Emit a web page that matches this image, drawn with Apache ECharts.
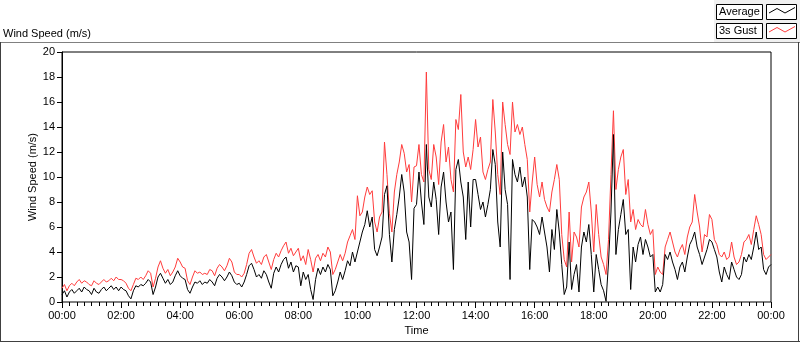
<!DOCTYPE html>
<html><head><meta charset="utf-8">
<script src="https://cdn.jsdelivr.net/npm/echarts@6/dist/echarts.min.js"></script>
<style>html,body{margin:0;padding:0;background:#fff}#c{width:800px;height:342px}</style>
</head><body><div id="c"></div>
<script>
// sampling step of the series (minutes after 00:00)
const stepMinutes = 5;

// Average wind speed (m/s), one value per 5 minutes, 00:00 .. 24:00
const avgSpeed = [
  0.6,0.9,0.4,0.8,1.0,0.7,0.9,1.1,0.8,1.2,1.0,0.9,0.6,1.1,0.8,0.7,1.0,1.2,0.9,1.1,1.3,1.0,1.2,0.9,
  1.2,1.0,0.9,0.5,0.25,0.9,1.3,1.2,1.4,1.3,1.5,1.8,1.6,0.6,1.2,2.0,2.3,1.9,1.5,1.8,1.4,1.6,2.1,2.5,
  2.1,1.9,1.8,1.0,0.7,1.2,1.6,1.5,1.7,1.4,1.6,1.5,1.8,1.6,1.3,1.9,2.2,2.0,1.7,2.0,2.4,2.1,1.6,1.4,
  1.5,1.2,1.6,2.2,2.9,3.1,2.6,2.0,2.2,1.9,2.5,2.2,1.6,1.1,2.3,2.8,2.4,3.0,3.4,3.6,2.7,3.2,2.4,2.9,
  2.8,1.3,2.4,1.8,2.2,1.0,0.2,1.8,2.7,2.2,2.8,2.4,3.0,2.6,0.5,0.9,1.6,2.4,1.8,2.5,3.3,2.9,4.0,3.2,
  4.0,4.8,5.6,6.2,7.3,6.0,6.8,4.2,3.7,4.4,5.2,8.6,9.3,5.4,3.2,5.8,7.0,8.4,10.2,8.8,5.6,4.8,1.8,7.5,
  7.8,10.4,8.0,6.2,12.6,8.4,7.6,9.6,8.2,5.4,9.2,10.4,8.0,6.4,7.2,2.6,10.6,11.4,9.6,8.4,5.0,9.6,6.0,9.8,
  9.8,8.6,7.4,8.0,6.8,7.8,9.0,12.2,11.0,6.4,4.4,12.0,9.0,7.8,1.8,11.4,10.2,9.6,10.8,9.2,10.0,8.4,2.6,6.6,
  6.4,6.0,5.4,6.8,5.6,4.4,2.4,5.8,4.2,7.4,5.6,3.0,0.6,1.2,4.8,1.0,2.2,3.0,0.8,4.4,5.6,4.8,6.2,3.8,
  0.8,3.8,2.6,1.4,0.9,0.05,3.2,7.2,13.4,3.8,5.8,7.0,8.2,5.4,5.8,1.0,4.4,3.2,4.6,5.2,3.8,5.0,4.4,3.6,
  3.8,0.8,1.2,0.8,1.4,3.8,3.4,4.0,3.2,2.6,1.8,2.8,3.2,2.4,3.6,4.6,5.0,5.6,4.4,3.8,3.0,3.6,4.2,5.0,
  4.8,4.2,3.6,2.4,1.6,2.8,2.2,1.8,3.2,2.6,2.0,1.8,2.2,3.6,3.2,3.8,3.4,4.4,5.6,4.2,4.4,2.6,2.2,2.8,
  3.0
];

// 3 s gust (m/s), one value per 5 minutes, 00:00 .. 24:00
const gustSpeed = [
  1.1,1.4,0.9,1.3,1.5,1.3,1.6,1.8,1.5,1.7,1.6,1.4,1.3,1.7,1.5,1.4,1.6,1.8,1.6,1.7,1.9,1.7,2.0,1.8,
  1.8,1.7,1.5,1.1,0.9,1.4,1.9,1.8,2.0,1.8,2.1,2.5,2.3,1.2,1.9,2.8,3.3,2.7,2.3,2.6,2.1,2.4,2.8,3.5,
  3.2,2.8,2.7,1.7,1.4,2.0,2.5,2.3,2.4,2.2,2.3,2.2,2.6,2.5,2.1,2.7,3.0,2.8,2.5,2.9,3.5,3.2,2.4,2.2,
  2.2,2.0,2.3,3.0,3.9,4.2,3.6,3.1,3.3,3.0,3.6,3.8,3.2,2.6,3.4,3.9,3.6,4.1,4.5,4.8,3.9,4.3,3.7,4.0,
  4.3,3.3,3.7,3.0,4.2,3.4,2.4,3.5,3.8,3.3,3.9,3.6,4.4,4.0,2.2,2.6,3.2,3.8,3.3,3.9,4.8,5.3,5.8,5.0,
  8.5,6.9,7.2,8.4,9.2,8.6,8.9,6.4,5.6,6.8,7.2,12.8,10.2,7.1,5.6,8.8,10.2,11.2,12.6,11.9,10.4,11.0,8.0,10.8,
  10.9,12.6,10.2,9.6,18.4,10.6,9.8,12.6,11.6,9.4,12.8,14.2,11.2,12.4,9.8,8.8,14.6,13.8,16.6,12.0,10.8,11.6,10.6,12.2,
  14.6,12.4,13.2,10.4,9.8,10.6,11.2,16.2,13.6,10.2,8.6,16.0,14.2,12.6,11.8,16.0,13.6,14.2,13.4,14.0,12.6,11.4,7.2,9.6,
  11.6,9.4,8.4,9.6,8.2,7.6,7.2,8.8,9.8,11.0,9.8,5.4,3.4,2.8,7.2,3.2,5.6,5.2,4.4,7.6,8.4,8.8,9.6,7.2,
  4.0,7.8,5.4,3.6,3.0,2.2,5.0,10.2,15.3,9.0,10.6,11.6,12.2,8.6,9.8,6.4,7.4,5.8,6.6,6.2,6.0,7.4,6.2,5.4,
  5.8,2.2,2.8,2.4,2.2,4.4,5.0,5.6,4.8,4.0,3.6,4.2,4.6,3.8,5.2,6.0,6.4,8.6,7.2,6.0,4.0,5.4,5.2,7.0,
  6.6,5.0,4.6,3.8,3.6,4.0,3.4,3.6,4.8,3.6,3.0,3.2,3.8,4.8,5.0,5.4,4.6,5.8,6.9,6.2,5.4,3.8,3.4,3.6,
  3.8
];

// x tick labels every 2 hours
const timeTickLabels = ['00:00','02:00','04:00','06:00','08:00','10:00','12:00','14:00','16:00','18:00','20:00','22:00','00:00'];
const seriesNames = ['Average', '3s Gust'];

const toPairs = arr => arr.map((v, i) => [i * stepMinutes, v]);

const chart = echarts.init(document.getElementById('c'), null, {renderer: 'canvas'});
const FONT = 'Liberation Sans';
chart.setOption({
  animation: false,
  backgroundColor: '#fff',
  textStyle: {fontFamily: FONT},
  grid: {left: 62, top: 52, width: 709, height: 250, show: true, borderColor: '#000', borderWidth: 1, backgroundColor: '#fff'},
  xAxis: {
    type: 'value', min: 0, max: 1440, interval: 120,
    name: 'Time', nameLocation: 'middle', nameGap: 23, nameMoveOverlap: false,
    nameTextStyle: {color: '#000', fontSize: 11, fontFamily: FONT},
    axisLine: {lineStyle: {color: '#808080', width: 1}},
    axisTick: {length: 6, lineStyle: {color: '#000'}},
    minorTick: {show: true, splitNumber: 8, length: 4, lineStyle: {color: '#000'}},
    splitLine: {show: false},
    axisLabel: {color: '#000', fontSize: 11, fontFamily: FONT, margin: 8,
      formatter: v => timeTickLabels[Math.round(v / 120)]}
  },
  yAxis: {
    type: 'value', min: 0, max: 20, interval: 2,
    name: 'Wind Speed (m/s)', nameLocation: 'middle', nameGap: 24, nameMoveOverlap: false,
    nameTextStyle: {color: '#000', fontSize: 11, fontFamily: FONT},
    axisLine: {show: true, lineStyle: {color: '#000'}},
    axisTick: {show: true, length: 5, lineStyle: {color: '#000'}},
    splitLine: {show: false},
    axisLabel: {color: '#000', fontSize: 11, fontFamily: FONT, margin: 7}
  },
  series: [
    {name: seriesNames[1], type: 'line', data: toPairs(gustSpeed), showSymbol: false, symbol: 'none',
     lineStyle: {color: '#ff3c3c', width: 1}, itemStyle: {color: '#ff3c3c'}, z: 2},
    {name: seriesNames[0], type: 'line', data: toPairs(avgSpeed), showSymbol: false, symbol: 'none',
     lineStyle: {color: '#000', width: 1}, itemStyle: {color: '#000'}, z: 3}
  ],
  graphic: [
    {type: 'rect', shape: {x: 714, y: 0, width: 86, height: 42}, style: {fill: '#f0f0f0', stroke: null}, z: -1},
    {type: 'line', shape: {x1: 0, y1: 42.5, x2: 800, y2: 42.5}, style: {stroke: '#808080', lineWidth: 1}},
    {type: 'line', shape: {x1: 0.5, y1: 42, x2: 0.5, y2: 342}, style: {stroke: '#404040', lineWidth: 1}},
    {type: 'line', shape: {x1: 0, y1: 341.5, x2: 800, y2: 341.5}, style: {stroke: '#404040', lineWidth: 1}},
    {type: 'line', shape: {x1: 798.5, y1: 42, x2: 798.5, y2: 342}, style: {stroke: '#404040', lineWidth: 1}},
    {type: 'text', left: 3, top: 28, style: {text: 'Wind Speed (m/s)', fill: '#000', font: '11px "Liberation Sans"'}},
    // legend boxes
    {type: 'rect', shape: {x: 716.5, y: 4.5, width: 46, height: 15}, style: {fill: '#fff', stroke: '#000', lineWidth: 1}},
    {type: 'text', x: 719, y: 12, style: {text: seriesNames[0], fill: '#000', font: '11px "Liberation Sans"', verticalAlign: 'middle'}},
    {type: 'rect', shape: {x: 766.5, y: 4.5, width: 30, height: 15}, style: {fill: '#fff', stroke: '#000', lineWidth: 1}},
    {type: 'polyline', shape: {points: [[769, 13], [777, 8.5], [785, 13], [795, 7.5]]}, style: {stroke: '#000', lineWidth: 1, fill: null}},
    {type: 'rect', shape: {x: 716.5, y: 23.5, width: 46, height: 15}, style: {fill: '#fff', stroke: '#000', lineWidth: 1}},
    {type: 'text', x: 719, y: 31, style: {text: seriesNames[1], fill: '#000', font: '11px "Liberation Sans"', verticalAlign: 'middle'}},
    {type: 'rect', shape: {x: 766.5, y: 23.5, width: 30, height: 15}, style: {fill: '#fff', stroke: '#000', lineWidth: 1}},
    {type: 'polyline', shape: {points: [[769, 32], [777, 27.5], [785, 32], [795, 26.5]]}, style: {stroke: '#ff3c3c', lineWidth: 1, fill: null}}
  ]
});
</script></body></html>
